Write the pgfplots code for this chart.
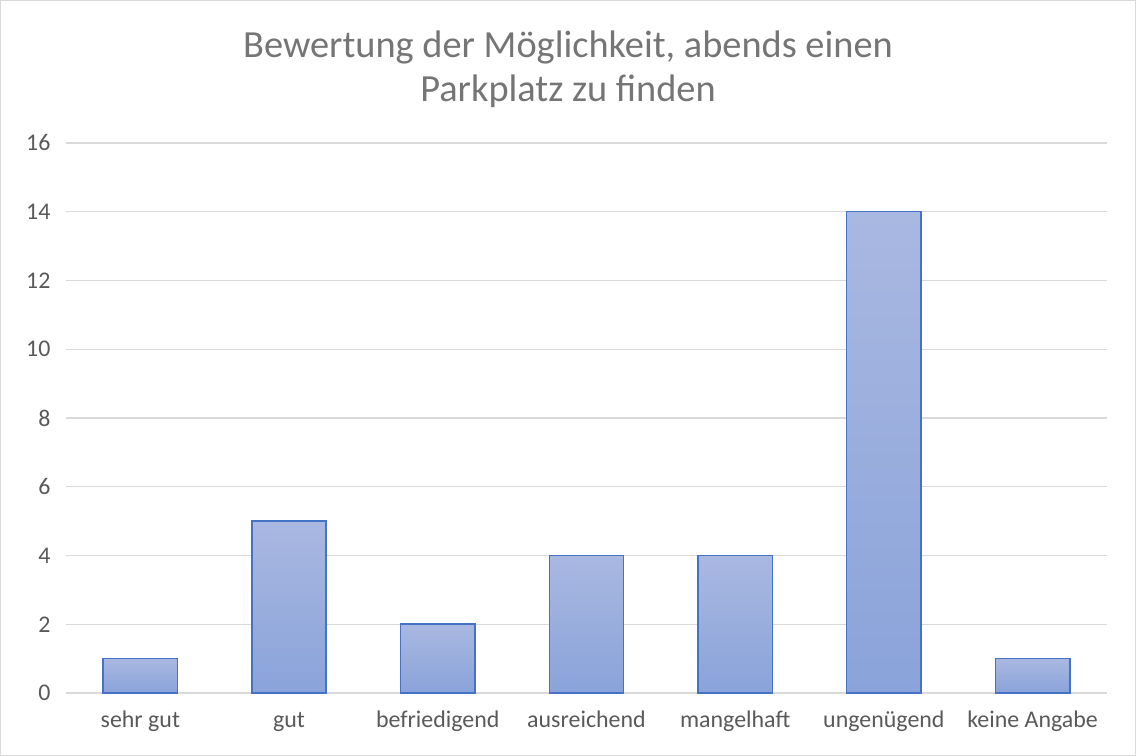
\documentclass[border=0pt]{standalone}
\usepackage{fontspec}
\setmainfont{Carlito}
\usepackage{pgfplots}
\pgfplotsset{compat=1.18}
\definecolor{gridc}{HTML}{D9D9D9}
\definecolor{txt}{HTML}{595959}
\definecolor{ttl}{HTML}{757575}
\definecolor{bartop}{HTML}{A9B8E1}
\definecolor{barbot}{HTML}{8AA3DA}
\definecolor{barline}{HTML}{4472C4}
\pgfplotsset{gbar/.style={ybar, bar width=0.5, bar shift=0pt, draw=barline,
  line width=1.5bp, top color=bartop, bottom color=barbot}}
\begin{document}
\begin{tikzpicture}[x=1bp,y=1bp]
% chart frame
\draw[gridc, line width=1bp] (0.5,0.5) rectangle (1135.5,755.5);
\node[ttl, font=\fontsize{38.5}{44}\selectfont, align=center] at (568,687)
  {Bewertung der Möglichkeit, abends einen\\Parkplatz zu finden};
\begin{axis}[
  at={(66bp,63bp)}, anchor=south west,
  scale only axis, width=1041bp, height=550bp,
  xmin=-0.5, xmax=6.5, ymin=0, ymax=16,
  ytick={0,2,...,16},
  xtick={0,...,6},
  xticklabels={sehr gut,gut,befriedigend,ausreichend,mangelhaft,ungenügend,keine Angabe},
  /pgf/number format/assume math mode=true,
  ticklabel style={font=\fontsize{24}{28}\selectfont, text=txt},
  yticklabel style={xshift=-12bp},
  xticklabel style={yshift=-14bp, text height=17bp, text depth=5bp},
  major tick length=0pt,
  ymajorgrids, xmajorgrids=false,
  grid style={draw=gridc, line width=1.2bp},
  axis x line*=bottom, axis y line*=left,
  x axis line style={draw=gridc, line width=1.2bp, -},
  y axis line style={draw=none},
  enlargelimits=false, clip=false,
]
% one plot per bar so each bar gets its own gradient
\addplot[gbar] coordinates {(0,1)};
\addplot[gbar] coordinates {(1,5)};
\addplot[gbar] coordinates {(2,2)};
\addplot[gbar] coordinates {(3,4)};
\addplot[gbar] coordinates {(4,4)};
\addplot[gbar] coordinates {(5,14)};
\addplot[gbar] coordinates {(6,1)};
\end{axis}
\end{tikzpicture}
\end{document}
